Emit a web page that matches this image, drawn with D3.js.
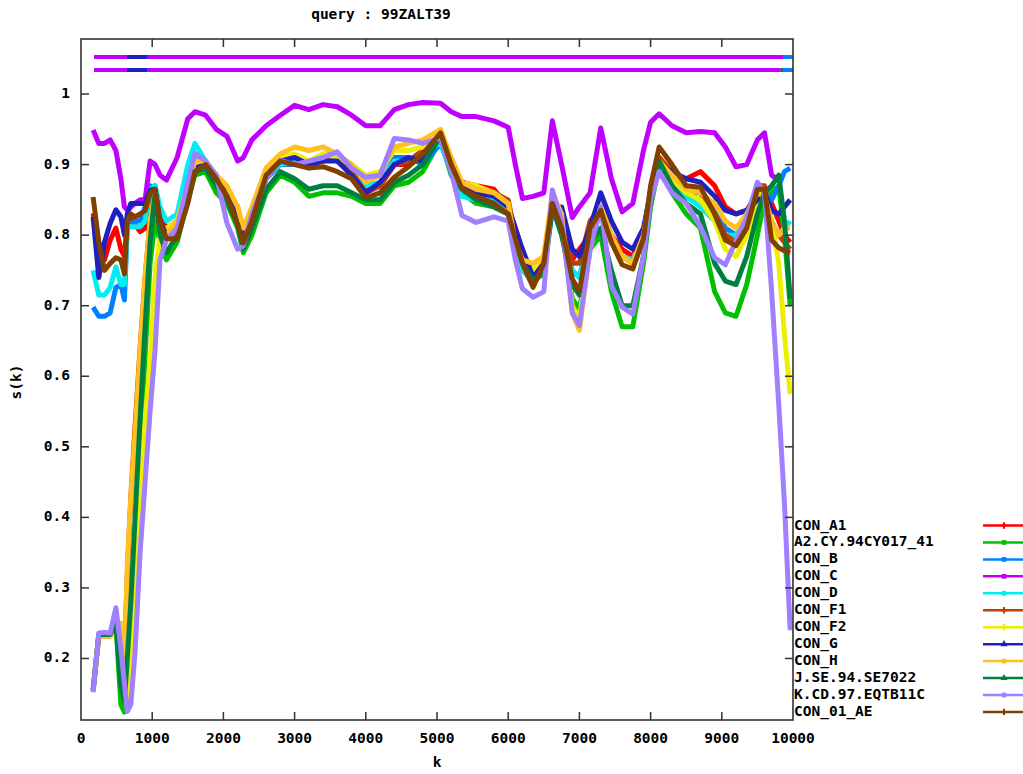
<!DOCTYPE html>
<html lang="en">
<head>
<meta charset="utf-8">
<title>query : 99ZALT39</title>
<script src="https://d3js.org/d3.v7.min.js"></script>
<style>
  body { margin: 0; background: #fff; }
  text { font-family: "DejaVu Sans Mono", monospace; font-weight: bold; font-size: 14.5px; fill: #000; }
</style>
</head>
<body>
<svg width="1023" height="774"></svg>
<script>
// ---- data ----
const title = "query : 99ZALT39";
const names = ["CON_A1", "A2.CY.94CY017_41", "CON_B", "CON_C", "CON_D", "CON_F1",
               "CON_F2", "CON_G", "CON_H", "J.SE.94.SE7022", "K.CD.97.EQTB11C", "CON_01_AE"];
const colors = ["#ff0000", "#00c000", "#0080ff", "#c000ff", "#00eeee", "#c04000",
                "#eeee00", "#2020c0", "#ffc020", "#008040", "#a080ff", "#804000"];
const xTicks = [0, 1000, 2000, 3000, 4000, 5000, 6000, 7000, 8000, 9000, 10000];
const yTicks = [0.2, 0.3, 0.4, 0.5, 0.6, 0.7, 0.8, 0.9, 1];

const kGrid = [170, 250, 330, 410, 490, 560, 610, 650, 700, 760, 830, 900, 970, 1040, 1110, 1200, 1350, 1500,
  1600, 1750, 1900, 2050, 2200, 2280, 2400, 2600, 2800, 3000, 3200, 3400, 3600, 3800, 4000, 4200, 4400, 4600,
  4800, 5050, 5200, 5350, 5550, 5800, 6000, 6100, 6200, 6350, 6500, 6620, 6750, 6900, 7000, 7150, 7300, 7450,
  7600, 7750, 7900, 8000, 8120, 8300, 8500, 8700, 8900, 9050, 9200, 9350, 9500, 9600, 9700, 9800, 9880, 9960];

const conA1 = [0.831, 0.79, 0.765, 0.793, 0.81, 0.78, 0.77, 0.82, 0.825, 0.815, 0.805, 0.81, 0.86, 0.87, 0.83, 0.81, 0.82, 0.86,
  0.9, 0.9, 0.88, 0.865, 0.84, 0.8, 0.83, 0.89, 0.91, 0.905, 0.9, 0.91, 0.905, 0.89, 0.865, 0.87, 0.9, 0.9,
  0.91, 0.935, 0.895, 0.875, 0.87, 0.865, 0.84, 0.81, 0.775, 0.745, 0.77, 0.84, 0.83, 0.765, 0.78, 0.8, 0.83, 0.8,
  0.78, 0.77, 0.805, 0.86, 0.91, 0.885, 0.88, 0.89, 0.87, 0.84, 0.83, 0.835, 0.86, 0.86, 0.845, 0.82, 0.8, 0.79];
const a2CY = [0.155, 0.235, 0.235, 0.236, 0.25, 0.135, 0.124, 0.17, 0.25, 0.36, 0.5, 0.63, 0.76, 0.82, 0.79, 0.765, 0.79, 0.85,
  0.885, 0.89, 0.86, 0.845, 0.81, 0.775, 0.8, 0.86, 0.885, 0.875, 0.855, 0.86, 0.86, 0.855, 0.845, 0.845, 0.87, 0.875,
  0.89, 0.935, 0.885, 0.86, 0.845, 0.84, 0.83, 0.79, 0.755, 0.735, 0.745, 0.835, 0.81, 0.71, 0.695, 0.78, 0.8, 0.72,
  0.67, 0.67, 0.76, 0.84, 0.9, 0.86, 0.83, 0.81, 0.72, 0.69, 0.685, 0.73, 0.8, 0.85, 0.86, 0.87, 0.8, 0.7];
const conB = [0.698, 0.685, 0.685, 0.69, 0.726, 0.73, 0.708, 0.81, 0.815, 0.82, 0.82, 0.84, 0.87, 0.865, 0.81, 0.8, 0.81, 0.88,
  0.915, 0.9, 0.87, 0.85, 0.82, 0.78, 0.82, 0.88, 0.9, 0.9, 0.9, 0.905, 0.91, 0.895, 0.86, 0.87, 0.91, 0.91,
  0.9, 0.93, 0.89, 0.86, 0.86, 0.86, 0.845, 0.79, 0.75, 0.735, 0.75, 0.84, 0.82, 0.75, 0.74, 0.8, 0.835, 0.79,
  0.77, 0.76, 0.8, 0.865, 0.905, 0.88, 0.86, 0.86, 0.835, 0.81, 0.8, 0.82, 0.86, 0.86, 0.85, 0.87, 0.89, 0.895];
const conC = [0.949, 0.93, 0.93, 0.935, 0.92, 0.88, 0.84, 0.836, 0.84, 0.845, 0.85, 0.85, 0.905, 0.9, 0.885, 0.878, 0.91, 0.965,
  0.975, 0.97, 0.95, 0.94, 0.905, 0.91, 0.935, 0.955, 0.97, 0.984, 0.978, 0.985, 0.982, 0.97, 0.955, 0.955, 0.978, 0.985,
  0.988, 0.987, 0.975, 0.968, 0.968, 0.962, 0.953, 0.9, 0.852, 0.855, 0.86, 0.962, 0.9, 0.825, 0.84, 0.86, 0.952, 0.88,
  0.833, 0.845, 0.92, 0.96, 0.972, 0.955, 0.945, 0.947, 0.945, 0.925, 0.897, 0.9, 0.935, 0.945, 0.885, 0.878, null, null];
const conD = [0.75, 0.715, 0.715, 0.726, 0.755, 0.73, 0.73, 0.812, 0.812, 0.812, 0.812, 0.82, 0.865, 0.87, 0.84, 0.82, 0.83, 0.9,
  0.93, 0.905, 0.875, 0.85, 0.82, 0.78, 0.825, 0.885, 0.9, 0.905, 0.895, 0.915, 0.915, 0.89, 0.87, 0.875, 0.905, 0.905,
  0.92, 0.93, 0.89, 0.855, 0.85, 0.85, 0.84, 0.78, 0.75, 0.735, 0.75, 0.84, 0.815, 0.75, 0.74, 0.81, 0.835, 0.79,
  0.77, 0.765, 0.8, 0.86, 0.9, 0.875, 0.855, 0.84, 0.82, 0.8, 0.8, 0.82, 0.855, 0.86, 0.82, 0.8, 0.81, 0.82];
const conF1 = [0.155, 0.232, 0.232, 0.232, 0.24, 0.24, 0.2, 0.32, 0.43, 0.53, 0.64, 0.74, 0.82, 0.86, 0.81, 0.8, 0.81, 0.86,
  0.9, 0.9, 0.885, 0.86, 0.83, 0.8, 0.83, 0.89, 0.91, 0.91, 0.905, 0.91, 0.905, 0.89, 0.86, 0.87, 0.9, 0.905,
  0.92, 0.94, 0.9, 0.875, 0.865, 0.86, 0.85, 0.8, 0.765, 0.74, 0.76, 0.84, 0.82, 0.76, 0.76, 0.82, 0.84, 0.8,
  0.77, 0.76, 0.8, 0.86, 0.91, 0.89, 0.865, 0.86, 0.83, 0.8, 0.79, 0.82, 0.87, 0.87, 0.81, 0.8, 0.79, 0.78];
const conF2 = [0.155, 0.233, 0.233, 0.233, 0.24, 0.2, 0.16, 0.14, 0.2, 0.32, 0.44, 0.54, 0.62, 0.74, 0.8, 0.81, 0.82, 0.87,
  0.9, 0.9, 0.88, 0.86, 0.83, 0.8, 0.835, 0.89, 0.91, 0.915, 0.905, 0.915, 0.91, 0.9, 0.885, 0.89, 0.92, 0.92,
  0.925, 0.94, 0.905, 0.875, 0.87, 0.86, 0.845, 0.79, 0.76, 0.75, 0.77, 0.85, 0.82, 0.7, 0.68, 0.8, 0.845, 0.79,
  0.77, 0.76, 0.8, 0.86, 0.9, 0.88, 0.86, 0.85, 0.82, 0.78, 0.77, 0.8, 0.85, 0.855, 0.82, 0.76, 0.66, 0.575];
const conG = [0.826, 0.74, 0.79, 0.817, 0.836, 0.826, 0.8, 0.83, 0.845, 0.845, 0.845, 0.845, 0.864, 0.865, 0.82, 0.8, 0.81, 0.86,
  0.895, 0.9, 0.875, 0.86, 0.83, 0.8, 0.835, 0.885, 0.905, 0.91, 0.9, 0.905, 0.905, 0.885, 0.86, 0.875, 0.9, 0.91,
  0.905, 0.94, 0.895, 0.87, 0.86, 0.855, 0.84, 0.81, 0.78, 0.74, 0.76, 0.84, 0.84, 0.78, 0.77, 0.81, 0.86, 0.82,
  0.79, 0.78, 0.81, 0.86, 0.9, 0.89, 0.88, 0.875, 0.855, 0.835, 0.83, 0.835, 0.85, 0.86, 0.835, 0.83, 0.84, 0.85];
const conH = [0.155, 0.23, 0.232, 0.232, 0.24, 0.25, 0.2, 0.33, 0.43, 0.52, 0.637, 0.74, 0.82, 0.86, 0.8, 0.8, 0.82, 0.87,
  0.905, 0.905, 0.885, 0.87, 0.84, 0.81, 0.84, 0.895, 0.915, 0.925, 0.92, 0.925, 0.915, 0.9, 0.875, 0.885, 0.925, 0.93,
  0.935, 0.95, 0.91, 0.875, 0.865, 0.86, 0.845, 0.79, 0.765, 0.76, 0.77, 0.86, 0.83, 0.69, 0.665, 0.78, 0.84, 0.8,
  0.77, 0.76, 0.8, 0.86, 0.905, 0.885, 0.865, 0.86, 0.845, 0.82, 0.81, 0.83, 0.86, 0.855, 0.82, 0.8, 0.81, 0.81];
const jSE = [0.155, 0.234, 0.234, 0.234, 0.25, 0.16, 0.14, 0.2, 0.28, 0.4, 0.54, 0.67, 0.79, 0.86, 0.8, 0.775, 0.8, 0.855,
  0.89, 0.895, 0.87, 0.85, 0.815, 0.78, 0.81, 0.865, 0.89, 0.88, 0.865, 0.87, 0.87, 0.86, 0.85, 0.85, 0.875, 0.885,
  0.9, 0.94, 0.89, 0.865, 0.85, 0.84, 0.83, 0.79, 0.76, 0.735, 0.75, 0.84, 0.8, 0.73, 0.715, 0.79, 0.81, 0.75,
  0.7, 0.7, 0.77, 0.85, 0.905, 0.87, 0.845, 0.83, 0.76, 0.735, 0.73, 0.77, 0.83, 0.86, 0.87, 0.885, 0.82, 0.71];
const kCD = [0.152, 0.236, 0.237, 0.236, 0.272, 0.215, 0.165, 0.125, 0.135, 0.21, 0.35, 0.45, 0.55, 0.637, 0.765, 0.793, 0.81, 0.874,
  0.916, 0.905, 0.885, 0.817, 0.78, 0.785, 0.83, 0.88, 0.906, 0.9, 0.905, 0.91, 0.918, 0.895, 0.882, 0.885, 0.937, 0.935,
  0.93, 0.938, 0.89, 0.828, 0.818, 0.826, 0.82, 0.765, 0.724, 0.712, 0.72, 0.864, 0.82, 0.69, 0.672, 0.78, 0.84, 0.728,
  0.698, 0.688, 0.77, 0.85, 0.89, 0.86, 0.845, 0.812, 0.768, 0.758, 0.792, 0.825, 0.875, 0.86, 0.72, 0.56, 0.42, 0.24];
const con01AE = [0.854, 0.79, 0.75, 0.76, 0.768, 0.765, 0.745, 0.82, 0.83, 0.826, 0.83, 0.835, 0.86, 0.865, 0.82, 0.795, 0.795, 0.845,
  0.89, 0.9, 0.88, 0.855, 0.815, 0.789, 0.82, 0.885, 0.905, 0.9, 0.895, 0.897, 0.89, 0.88, 0.853, 0.86, 0.882, 0.897,
  0.915, 0.945, 0.9, 0.866, 0.855, 0.845, 0.83, 0.795, 0.76, 0.726, 0.76, 0.845, 0.81, 0.738, 0.72, 0.81, 0.835, 0.79,
  0.758, 0.752, 0.795, 0.87, 0.925, 0.9, 0.87, 0.868, 0.83, 0.793, 0.785, 0.81, 0.865, 0.865, 0.793, 0.782, 0.778, 0.775];

const seriesValues = [conA1, a2CY, conB, conC, conD, conF1, conF2, conG, conH, jSE, kCD, con01AE];

// best-match strips at the top: [from k, to k, series index]
const stripTop = [[183, 646, 3], [646, 927, 7], [927, 9860, 3], [9860, 10000, 2]];
const stripLow = [[183, 646, 3], [646, 927, 7], [927, 9830, 3], [9830, 9860, 9], [9860, 10000, 2]];

// ---- chart ----
const svg = d3.select("svg");
const x = d3.scaleLinear().domain([0, 10000]).range([81, 793]);
const y = d3.scaleLinear().domain([0.1128, 1.078]).range([720, 39]);

svg.append("text")
    .attr("x", 381).attr("y", 15)
    .attr("text-anchor", "middle").attr("dominant-baseline", "middle")
    .text(title);

// lines (drawn in legend order, last one on top)
const line = d3.line()
    .defined(d => d[1] != null)
    .x(d => x(d[0]))
    .y(d => y(d[1]));

seriesValues.forEach((vals, i) => {
    svg.append("path")
        .datum(kGrid.map((k, j) => [k, vals[j]]))
        .attr("fill", "none")
        .attr("stroke", colors[i])
        .attr("stroke-width", 5)
        .attr("stroke-linejoin", "round")
        .attr("d", line);
});

// top strips
[[stripTop, 57], [stripLow, 70]].forEach(([segs, yy]) => {
    svg.selectAll(null).data(segs).join("line")
        .attr("x1", d => x(d[0])).attr("x2", d => x(d[1]))
        .attr("y1", yy).attr("y2", yy)
        .attr("stroke", d => colors[d[2]])
        .attr("stroke-width", 4);
});

// frame
svg.append("rect")
    .attr("x", 81).attr("y", 39)
    .attr("width", 712).attr("height", 681)
    .attr("fill", "none").attr("stroke", "#333").attr("stroke-width", 1.6);

// ticks (inward, mirrored)
const tk = 8;
svg.selectAll(null).data(xTicks.slice(1, -1)).join("line")
    .attr("x1", d => x(d)).attr("x2", d => x(d))
    .attr("y1", 720).attr("y2", 720 - tk)
    .attr("stroke", "#333").attr("stroke-width", 1.5);
svg.selectAll(null).data(xTicks.slice(1, -1)).join("line")
    .attr("x1", d => x(d)).attr("x2", d => x(d))
    .attr("y1", 39).attr("y2", 39 + tk)
    .attr("stroke", "#333").attr("stroke-width", 1.5);
svg.selectAll(null).data(yTicks).join("line")
    .attr("x1", 81).attr("x2", 81 + tk)
    .attr("y1", d => y(d)).attr("y2", d => y(d))
    .attr("stroke", "#333").attr("stroke-width", 1.5);
svg.selectAll(null).data(yTicks).join("line")
    .attr("x1", 793).attr("x2", 793 - tk)
    .attr("y1", d => y(d)).attr("y2", d => y(d))
    .attr("stroke", "#333").attr("stroke-width", 1.5);

svg.selectAll(null).data(xTicks).join("text")
    .attr("x", d => x(d)).attr("y", 739)
    .attr("text-anchor", "middle").attr("dominant-baseline", "middle")
    .text(d => d);
svg.selectAll(null).data(yTicks).join("text")
    .attr("x", 70).attr("y", d => y(d))
    .attr("text-anchor", "end").attr("dominant-baseline", "middle")
    .text(d => d3.format("")(d));

svg.append("text")
    .attr("x", 437).attr("y", 763)
    .attr("text-anchor", "middle").attr("dominant-baseline", "middle")
    .text("k");
svg.append("text")
    .attr("transform", "translate(17,382) rotate(-90)")
    .attr("text-anchor", "middle").attr("dominant-baseline", "middle")
    .text("s(k)");

// legend
const symbols = [d3.symbolCross, d3.symbolSquare, d3.symbolSquare, d3.symbolSquare, d3.symbolSquare, d3.symbolCross,
                 d3.symbolCross, d3.symbolTriangle, d3.symbolSquare, d3.symbolTriangle, d3.symbolSquare, d3.symbolCross];
const legend = svg.append("g");
names.forEach((n, i) => {
    const yy = 525.5 + i * 16.95;
    legend.append("text")
        .attr("x", 794).attr("y", yy)
        .attr("dominant-baseline", "middle")
        .text(n);
    legend.append("line")
        .attr("x1", 983).attr("x2", 1030)
        .attr("y1", yy).attr("y2", yy)
        .attr("stroke", colors[i]).attr("stroke-width", 2.5);
    legend.append("path")
        .attr("transform", `translate(1004,${yy})`)
        .attr("d", d3.symbol().type(symbols[i]).size(22)())
        .attr("fill", colors[i]);
});
</script>
</body>
</html>
